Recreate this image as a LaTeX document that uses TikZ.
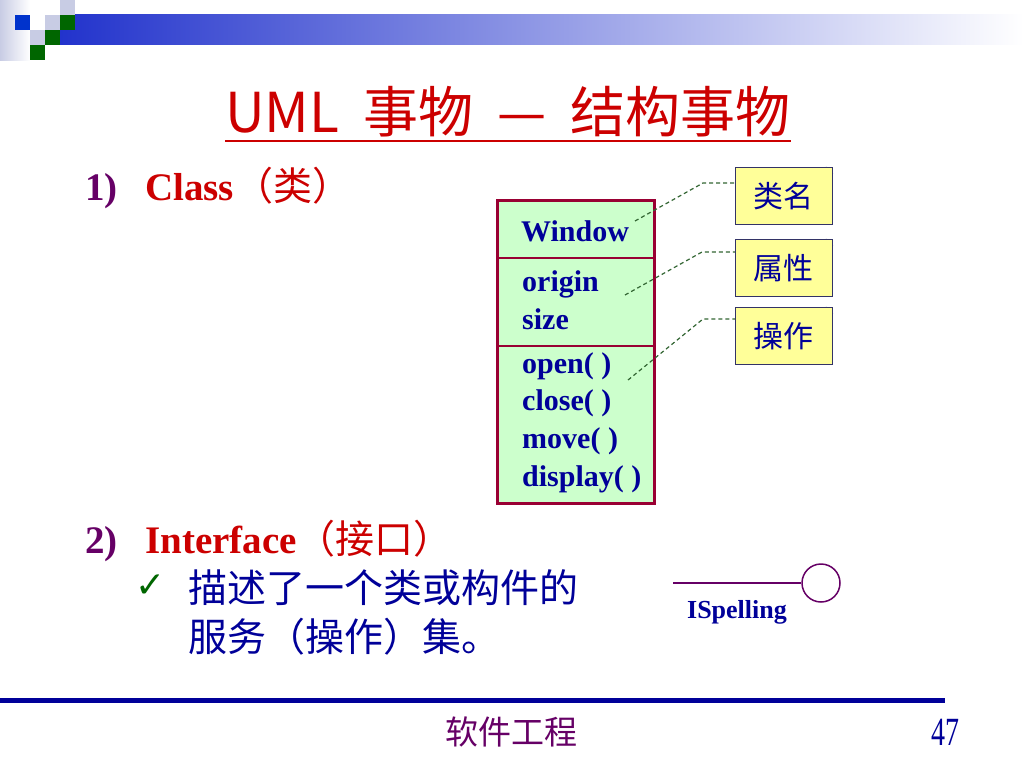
\documentclass[tikz,border=0pt]{standalone}
\usepackage{fontspec}
\setmainfont{Liberation Serif}
\newfontfamily\cjk{Noto Sans CJK SC}
\newfontfamily\symb{DejaVu Sans}
\usetikzlibrary{positioning,calc}
\definecolor{titlered}{RGB}{204,0,0}
\definecolor{numpurple}{RGB}{102,0,102}
\definecolor{textblue}{RGB}{0,0,153}
\definecolor{boxred}{RGB}{153,0,51}
\definecolor{boxgreen}{RGB}{204,255,204}
\definecolor{noteyellow}{RGB}{255,255,153}
\definecolor{noteline}{RGB}{51,51,102}
\definecolor{leadgreen}{RGB}{51,102,51}
\definecolor{checkgreen}{RGB}{0,102,0}
\definecolor{barblue}{RGB}{34,51,204}
\definecolor{barlight}{RGB}{200,204,228}
\definecolor{sqblue}{RGB}{0,51,204}
\definecolor{sqgreen}{RGB}{0,102,0}

\begin{document}
\begin{tikzpicture}[
    x=1pt, y=-1pt,
    member/.style={
        anchor=base west, inner sep=0pt,
        text=textblue, font=\fontsize{30}{34}\selectfont\bfseries
    },
    compart/.style={
        rectangle, draw=boxred, line width=1.5pt, fill=boxgreen,
        minimum width=156pt, inner sep=0pt, anchor=north west
    },
    note/.style={
        rectangle, draw=noteline, line width=0.8pt, fill=noteyellow,
        minimum width=97pt, minimum height=57pt, inner sep=0pt,
        anchor=north west, text=textblue, font=\cjk\fontsize{30}{34}\selectfont,
        append after command={
            \pgfextra{
                \fill[white] (\tikzlastnode.north east) -- ++(-7,0) -- ++(7,7) -- cycle;
                \draw[noteline, line width=0.8pt] ([xshift=-7pt]\tikzlastnode.north east) -- ([yshift=-7pt]\tikzlastnode.north east);
            }
        }
    },
    leader/.style={draw=leadgreen, line width=1.2pt, dash pattern=on 4pt off 3pt},
    heading/.style={anchor=base west, inner sep=0pt, font=\fontsize{39}{44}\selectfont},
    bullet/.style={anchor=base west, inner sep=0pt, text=textblue, font=\cjk\fontsize{39}{44}\selectfont},
    lollipop/.style={circle, draw=numpurple, line width=1.5pt, fill=white, minimum size=38pt, inner sep=0pt}
]

\useasboundingbox (0,0) rectangle (1024,768);
\fill[white] (0,0) rectangle (1024,768);

% top decoration
\shade[left color=barblue, right color=white] (60,15) rectangle (1024,45);
\shade[left color=barlight, right color=white] (0,0) rectangle (30,60);
\fill[barlight] (60,0) rectangle (75,15);
\fill[sqblue] (15,15) rectangle (30,30);
\fill[barlight] (45,15) rectangle (60,30);
\fill[sqgreen] (60,15) rectangle (75,30);
\fill[barlight] (30,30) rectangle (45,45);
\fill[sqgreen] (45,30) rectangle (60,45);
\fill[sqgreen] (30,45) rectangle (45,60);

% title
\node[anchor=base, inner sep=0pt, text=titlered, font=\cjk\fontsize{55}{60}\selectfont] (title) at (508,132) {UML\hspace{24pt}事物\hspace{24pt}—\hspace{24pt}结构事物};
\draw[titlered, line width=2pt] ([yshift=-9pt]title.base west) -- ([yshift=-9pt]title.base east);

% 1) class
\node[heading, text=numpurple] (num1) at (85,200) {\bfseries 1)};
\node[heading, text=titlered] (head1) at (145,200) {\bfseries Class{\cjk\mdseries（类）}};

\node[compart, minimum height=57pt] (clsname) at (497,200) {};
\node[compart, minimum height=88pt] (clsattr) at (497,257) {};
\node[compart, minimum height=157pt] (clsops) at (497,345) {};
\draw[boxred, line width=3pt] (clsname.north west) rectangle (clsops.south east);

\node[member, anchor=base] (cname) at (575,241) {Window};
\node[member] (attr1) at (522,291) {origin};
\node[member] (attr2) at (522,329) {size};
\foreach \op [count=\i] in {{open( )},{close( )},{move( )},{display( )}}
    \node[member] (op\i) at (522,{373+37.7*(\i-1)}) {\op};

\node[note] (nname) at (735,167) {类名};
\node[note] (nattr) at (735,239) {属性};
\node[note] (nops) at (735,307) {操作};

\coordinate (lname) at (635,221);
\coordinate (kname) at (703,183);
\coordinate (lattr) at (625,295);
\coordinate (kattr) at (702,252);
\coordinate (lops) at (628,380);
\coordinate (kops) at (703,319);
\draw[leader] (lname) -- (kname) -- (kname -| nname.west);
\draw[leader] (lattr) -- (kattr) -- (kattr -| nattr.west);
\draw[leader] (lops) -- (kops) -- (kops -| nops.west);

% 2) interface
\node[heading, text=numpurple] (num2) at (85,553) {\bfseries 2)};
\node[heading, text=titlered] (head2) at (145,553) {\bfseries Interface{\cjk\mdseries（接口）}};
\node[inner sep=0pt, text=checkgreen, font=\symb\bfseries\fontsize{36}{40}\selectfont] (tick) at (151,586) {✓};
\node[bullet] (desc1) at (188,602) {描述了一个类或构件的};
\node[bullet] (desc2) at (188,651) {服务（操作）集。};

\node[lollipop] (ispell) at (821,583) {};
\coordinate (istem) at (673,583);
\draw[numpurple, line width=1.5pt] (istem) -- (ispell.west);
\node[anchor=base, inner sep=0pt, text=textblue, font=\fontsize{26}{30}\selectfont\bfseries] (iname) at (737,618) {ISpelling};

% footer
\draw[textblue, line width=5pt] (0,700) -- (945,700);
\node[anchor=base, inner sep=0pt, text=numpurple, font=\cjk\fontsize{33}{36}\selectfont] (foot) at (511,744) {软件工程};
\node[anchor=base, inner sep=0pt, text=textblue, font=\fontsize{40}{44}\selectfont, xscale=0.7, transform shape] (pageno) at (945,745) {47};

\end{tikzpicture}
\end{document}
